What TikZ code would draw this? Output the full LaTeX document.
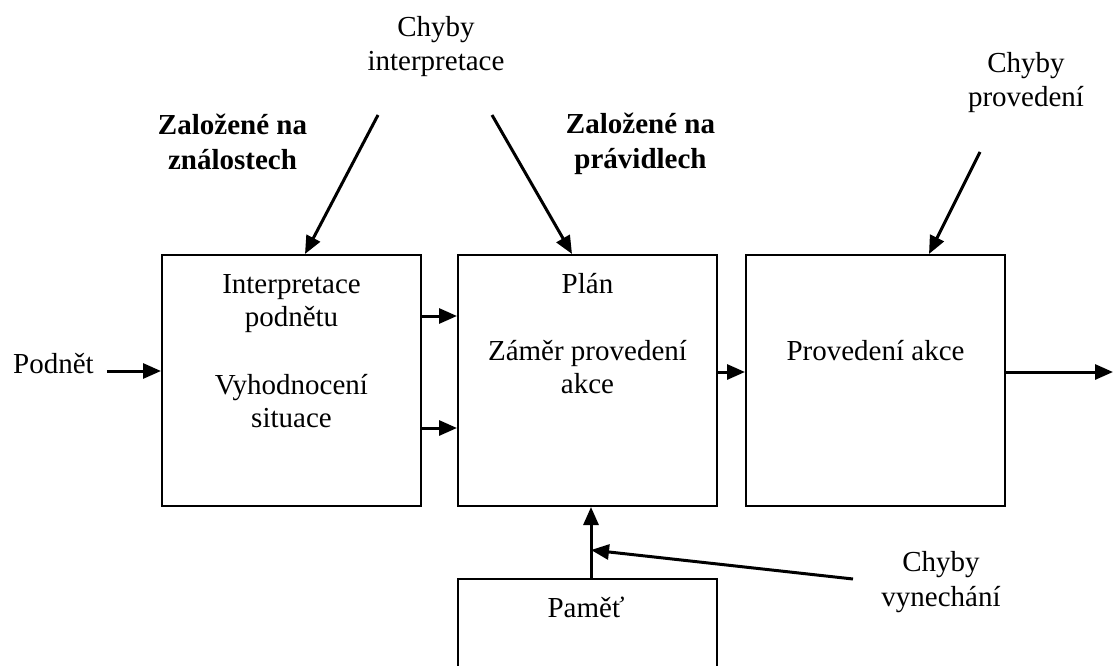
\documentclass[tikz,border=0pt]{standalone}
\usepackage{fontspec}
\setmainfont{Liberation Serif}
\usetikzlibrary{arrows.meta}

\begin{document}
\begin{tikzpicture}[x=1pt,y=-1pt,
  blok/.style={draw,line width=2pt,minimum width=259pt,minimum height=251pt,inner sep=0pt},
  popis/.style={font=\fontsize{29}{34.5}\selectfont,align=center,inner sep=0pt,anchor=base},
  vbloku/.style={popis,font=\fontsize{29}{33}\selectfont},
  tucne/.style={popis,font=\fontsize{29}{35}\selectfont\bfseries},
  sip/.style={line width=3pt,-{Triangle[length=18pt,width=15pt]}}]
\clip (0,0) rectangle (1113,666);

% bloky
\node[blok] (interp) at (291.5,380.5) {};
\node[blok] (plan) at (587.5,380.5) {};
\node[blok] (proved) at (875.5,380.5) {};
\node[blok] (pamet) at (587.5,704.5) {};

% texty (base = posledni radek)
\node[vbloku] (tinterp) at (291.5,427) {Interpretace\\podnětu\\[35pt]Vyhodnocení\\situace};
\node[vbloku] (tplan) at (587.5,393) {Plán\\[34pt]Záměr provedení\\akce};
\node[popis] (tproved) at (875.5,360) {Provedení akce};
\node[popis] (tpamet) at (586,617) {Paměť};
\node[popis] (podnet) at (53.5,373) {Podnět};
\node[popis] (chint) at (436,71) {Chyby\\interpretace};
\node[tucne] (znal) at (232.5,169) {Založené na\\ználostech};
\node[tucne] (prav) at (640.5,168) {Založené na\\právidlech};
\node[popis] (chprov) at (1026,107) {Chyby\\provedení};
\node[popis] (chvyn) at (941,606) {Chyby\\vynechání};

\coordinate (z1) at (378,115);
\coordinate (z2) at (492,115);
\coordinate (z3) at (980,152);
\coordinate (z4) at (853,579);
\coordinate (spoj) at (591,550);
\coordinate (vystup) at (1113,372);

% sipky
\draw[sip] ([xshift=13pt,yshift=2pt]podnet.base east) -- ([yshift=2pt]podnet.base east -| interp.west);
\foreach \d in {64.5,-47.5}
  \draw[sip] ([yshift=\d pt]interp.east) -- ([yshift=\d pt]plan.west);
\draw[sip] ([yshift=8.5pt]plan.east) -- ([yshift=8.5pt]proved.west);
\draw[sip] ([yshift=8.5pt]proved.east) -- (vystup);
\draw[sip] ([xshift=3.5pt]pamet.north) -- ([xshift=3.5pt]plan.south);
\draw[sip] (z4) -- (spoj);
\draw[sip] (z1) -- ([xshift=13.5pt]interp.north);
\draw[sip] (z2) -- ([xshift=-15.5pt]plan.north);
\draw[sip] (z3) -- ([xshift=53.5pt]proved.north);
\end{tikzpicture}
\end{document}
